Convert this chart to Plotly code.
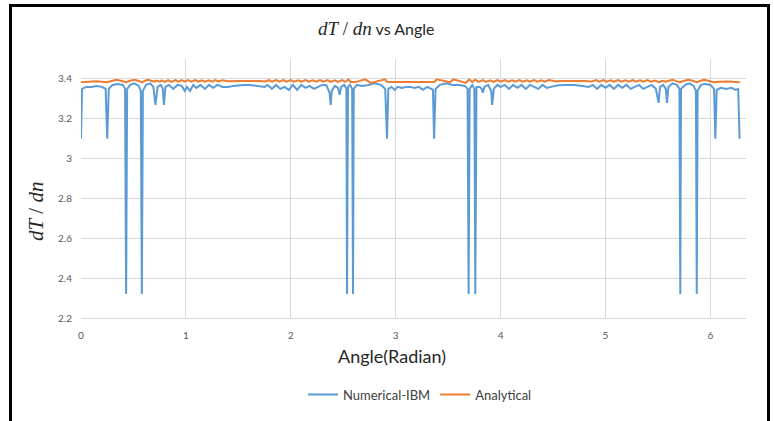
import plotly.graph_objects as go

# ---------------- data ----------------
blue_x = [0.00, 0.01, 0.05, 0.10, 0.15, 0.20, 0.235, 0.25, 0.265, 0.30, 0.35, 0.40, 0.42, 0.43, 0.44,
          0.47, 0.51, 0.55, 0.57, 0.58, 0.59, 0.62, 0.66, 0.69, 0.71, 0.73, 0.76, 0.78, 0.79, 0.805,
          0.84, 0.88, 0.92, 0.96, 0.99, 1.01, 1.04, 1.07, 1.10, 1.14, 1.18, 1.22, 1.26, 1.30, 1.35,
          1.40, 1.45, 1.50, 1.55, 1.60, 1.65, 1.70, 1.75, 1.78, 1.82, 1.86, 1.90, 1.94, 1.98, 2.02,
          2.06, 2.10, 2.14, 2.18, 2.22, 2.26, 2.30, 2.34, 2.37, 2.38, 2.39, 2.42, 2.45, 2.465, 2.48,
          2.51, 2.53, 2.536, 2.545, 2.565, 2.585, 2.593, 2.60, 2.63, 2.68, 2.74, 2.80, 2.86, 2.90, 2.917,
          2.93, 2.96, 2.99, 3.02, 3.06, 3.10, 3.14, 3.18, 3.22, 3.26, 3.30, 3.34, 3.355, 3.366, 3.38,
          3.42, 3.48, 3.54, 3.60, 3.66, 3.685, 3.695, 3.705, 3.73, 3.75, 3.759, 3.77, 3.80, 3.82, 3.83,
          3.845, 3.88, 3.91, 3.92, 3.935, 3.97, 4.00, 4.04, 4.08, 4.12, 4.16, 4.20, 4.24, 4.28, 4.32,
          4.36, 4.40, 4.44, 4.48, 4.55, 4.62, 4.70, 4.78, 4.84, 4.88, 4.92, 4.96, 5.00, 5.04, 5.08,
          5.12, 5.16, 5.20, 5.24, 5.28, 5.32, 5.36, 5.40, 5.44, 5.48, 5.506, 5.52, 5.55, 5.575, 5.586,
          5.60, 5.64, 5.68, 5.705, 5.713, 5.72, 5.76, 5.80, 5.84, 5.862, 5.87, 5.878, 5.91, 5.95, 6.00,
          6.035, 6.047, 6.06, 6.10, 6.15, 6.20, 6.24, 6.265, 6.278]
blue_y = [3.10, 3.35, 3.36, 3.36, 3.365, 3.36, 3.35, 3.10, 3.35, 3.37, 3.375, 3.37, 3.35, 2.32, 3.35,
          3.37, 3.378, 3.365, 3.34, 2.32, 3.34, 3.37, 3.378, 3.36, 3.27, 3.36, 3.37, 3.35, 3.27, 3.36,
          3.37, 3.35, 3.37, 3.365, 3.34, 3.36, 3.34, 3.37, 3.355, 3.37, 3.35, 3.37, 3.355, 3.37, 3.36,
          3.36, 3.365, 3.368, 3.37, 3.37, 3.366, 3.364, 3.36, 3.37, 3.35, 3.37, 3.35, 3.36, 3.345, 3.37,
          3.345, 3.37, 3.355, 3.365, 3.35, 3.36, 3.37, 3.368, 3.33, 3.27, 3.34, 3.365, 3.355, 3.32, 3.36,
          3.37, 3.35, 2.32, 3.36, 3.37, 3.35, 2.32, 3.35, 3.37, 3.365, 3.37, 3.378, 3.37, 3.35, 3.10,
          3.35, 3.36, 3.345, 3.36, 3.355, 3.36, 3.36, 3.355, 3.36, 3.345, 3.36, 3.35, 3.345, 3.10, 3.35,
          3.37, 3.378, 3.37, 3.37, 3.365, 3.35, 2.32, 3.35, 3.37, 3.35, 2.32, 3.36, 3.36, 3.35, 3.33,
          3.36, 3.37, 3.34, 3.27, 3.35, 3.37, 3.36, 3.37, 3.35, 3.37, 3.355, 3.37, 3.35, 3.37, 3.36,
          3.35, 3.37, 3.355, 3.36, 3.368, 3.37, 3.37, 3.365, 3.36, 3.37, 3.35, 3.37, 3.355, 3.37, 3.35,
          3.37, 3.355, 3.37, 3.35, 3.36, 3.37, 3.35, 3.36, 3.37, 3.35, 3.28, 3.36, 3.37, 3.35, 3.28,
          3.36, 3.378, 3.37, 3.35, 2.32, 3.35, 3.37, 3.378, 3.365, 3.34, 2.32, 3.34, 3.37, 3.375, 3.37,
          3.35, 3.10, 3.345, 3.355, 3.35, 3.355, 3.345, 3.35, 3.10]

orange_x = [0.00, 0.05, 0.10, 0.15, 0.20, 0.25, 0.30, 0.34, 0.38, 0.43, 0.47, 0.51, 0.55, 0.58, 0.61,
            0.64, 0.67, 0.70, 0.72, 0.75, 0.77, 0.80, 0.83, 0.86, 0.90, 0.93, 0.96, 0.99, 1.02, 1.05,
            1.09, 1.12, 1.15, 1.18, 1.22, 1.25, 1.28, 1.31, 1.35, 1.40, 1.50, 1.60, 1.70, 1.76, 1.79,
            1.82, 1.86, 1.89, 1.93, 1.96, 2.00, 2.03, 2.07, 2.10, 2.14, 2.17, 2.21, 2.24, 2.28, 2.31,
            2.35, 2.38, 2.42, 2.45, 2.49, 2.52, 2.55, 2.57, 2.615, 2.71, 2.76, 2.90, 2.92, 3.00,
            3.10, 3.20, 3.30, 3.37, 3.39, 3.52, 3.55, 3.67, 3.70, 3.73, 3.76, 3.79, 3.83, 3.86,
            3.90, 3.93, 3.97, 4.00, 4.04, 4.07, 4.11, 4.14, 4.18, 4.21, 4.25, 4.28, 4.32, 4.35, 4.39,
            4.42, 4.46, 4.52, 4.60, 4.70, 4.80, 4.87, 4.91, 4.94, 4.98, 5.01, 5.05, 5.08, 5.12, 5.15,
            5.19, 5.22, 5.26, 5.29, 5.33, 5.36, 5.40, 5.43, 5.47, 5.51, 5.54, 5.57, 5.61, 5.64, 5.67,
            5.71, 5.75, 5.79, 5.83, 5.87, 5.91, 5.94, 5.98, 6.03, 6.08, 6.13, 6.18, 6.23, 6.28]
orange_y = [3.383, 3.385, 3.387, 3.388, 3.386, 3.383, 3.391, 3.396, 3.391, 3.384, 3.391, 3.396, 3.390, 3.383, 3.391,
            3.396, 3.391, 3.386, 3.392, 3.386, 3.393, 3.385, 3.394, 3.385, 3.394, 3.386, 3.394, 3.386, 3.394, 3.386,
            3.394, 3.386, 3.393, 3.386, 3.393, 3.386, 3.394, 3.387, 3.393, 3.388, 3.390, 3.391, 3.389, 3.387, 3.394,
            3.386, 3.394, 3.386, 3.394, 3.386, 3.394, 3.386, 3.393, 3.386, 3.394, 3.386, 3.393, 3.386, 3.394, 3.386,
            3.394, 3.385, 3.393, 3.385, 3.394, 3.385, 3.398, 3.384, 3.384, 3.398, 3.380, 3.398, 3.384, 3.384,
            3.385, 3.385, 3.384, 3.384, 3.398, 3.384, 3.398, 3.380, 3.398, 3.385, 3.396, 3.385, 3.394, 3.385,
            3.393, 3.385, 3.394, 3.386, 3.394, 3.386, 3.393, 3.386, 3.394, 3.386, 3.393, 3.386, 3.394, 3.386, 3.393,
            3.386, 3.394, 3.388, 3.390, 3.391, 3.389, 3.387, 3.394, 3.386, 3.394, 3.386, 3.393, 3.386, 3.394, 3.386,
            3.393, 3.386, 3.394, 3.386, 3.393, 3.386, 3.394, 3.386, 3.392, 3.384, 3.391, 3.386, 3.391, 3.396, 3.390,
            3.384, 3.391, 3.396, 3.391, 3.384, 3.391, 3.396, 3.391, 3.383, 3.386, 3.388, 3.387, 3.385, 3.383]

x_ticks = [0, 1, 2, 3, 4, 5, 6]
y_ticks = [2.2, 2.4, 2.6, 2.8, 3.0, 3.2, 3.4]
y_tick_text = ["2.2", "2.4", "2.6", "2.8", "3", "3.2", "3.4"]

# ---------------- layout geometry ----------------
W, H = 774, 421
L, R, T, B = 81, 28, 59, 98
pw, ph = W - L - R, H - T - B


def px_x(p):
    return (p - L) / pw


def px_y(p):
    return (H - B - p) / ph


FONT = "Lato, 'Open Sans', sans-serif"
SERIF = "'Liberation Serif', 'DejaVu Serif', serif"

fig = go.Figure()
fig.add_trace(go.Scatter(x=blue_x, y=blue_y, mode="lines", name="Numerical-IBM",
                         line=dict(color="#5B9BD5", width=2)))
fig.add_trace(go.Scatter(x=orange_x, y=orange_y, mode="lines", name="Analytical",
                         line=dict(color="#ED7D31", width=2)))

fig.update_layout(
    width=W, height=H,
    margin=dict(l=L, r=R, t=T, b=B, pad=0),
    paper_bgcolor="white", plot_bgcolor="white",
    font=dict(family=FONT, color="#404040"),
    showlegend=True,
    legend=dict(orientation="h", x=px_x(420), y=px_y(401), xanchor="center", yanchor="middle",
                font=dict(size=13, color="#404040"), itemwidth=30, traceorder="normal",
                bgcolor="rgba(0,0,0,0)"),
    xaxis=dict(range=[0, (W - R - L) / 104.9], tickvals=x_ticks, showgrid=True, gridcolor="#D9D9D9",
               gridwidth=1, zeroline=False, showline=True, linecolor="#D9D9D9", ticks="",
               tickfont=dict(size=10, color="#595959", family=FONT), ticklabelstandoff=8),
    yaxis=dict(range=[2.2, 3.5], tickvals=y_ticks, ticktext=y_tick_text, showgrid=True,
               gridcolor="#D9D9D9", gridwidth=1, zeroline=False, showline=False, ticks="",
               tickfont=dict(size=10, color="#595959", family=FONT), ticklabelstandoff=8),
    annotations=[
        dict(text="<span style=\"font-family:'Liberation Serif', serif;font-size:19px\"><i>dT</i> / <i>dn</i></span> vs Angle",
             x=px_x(376), y=px_y(28), xref="paper", yref="paper", showarrow=False,
             xanchor="center", yanchor="middle", font=dict(size=16, color="#262626", family=FONT)),
        dict(text="Angle(Radian)", x=px_x(392), y=px_y(362), xref="paper", yref="paper",
             showarrow=False, xanchor="center", yanchor="middle",
             font=dict(size=18, color="#262626", family=FONT)),
        dict(text="<i>dT</i> / <i>dn</i>", x=px_x(36), y=px_y(214), xref="paper", yref="paper",
             showarrow=False, textangle=-90, xanchor="center", yanchor="middle",
             font=dict(size=21, color="#262626", family=SERIF)),
    ],
    shapes=[
        dict(type="rect", xref="paper", yref="paper", x0=px_x(10.5), x1=px_x(768.5),
             y0=px_y(440), y1=px_y(4.5), line=dict(color="black", width=3), fillcolor="rgba(0,0,0,0)",
             layer="above"),
    ],
)

fig.write_html("out.html")
